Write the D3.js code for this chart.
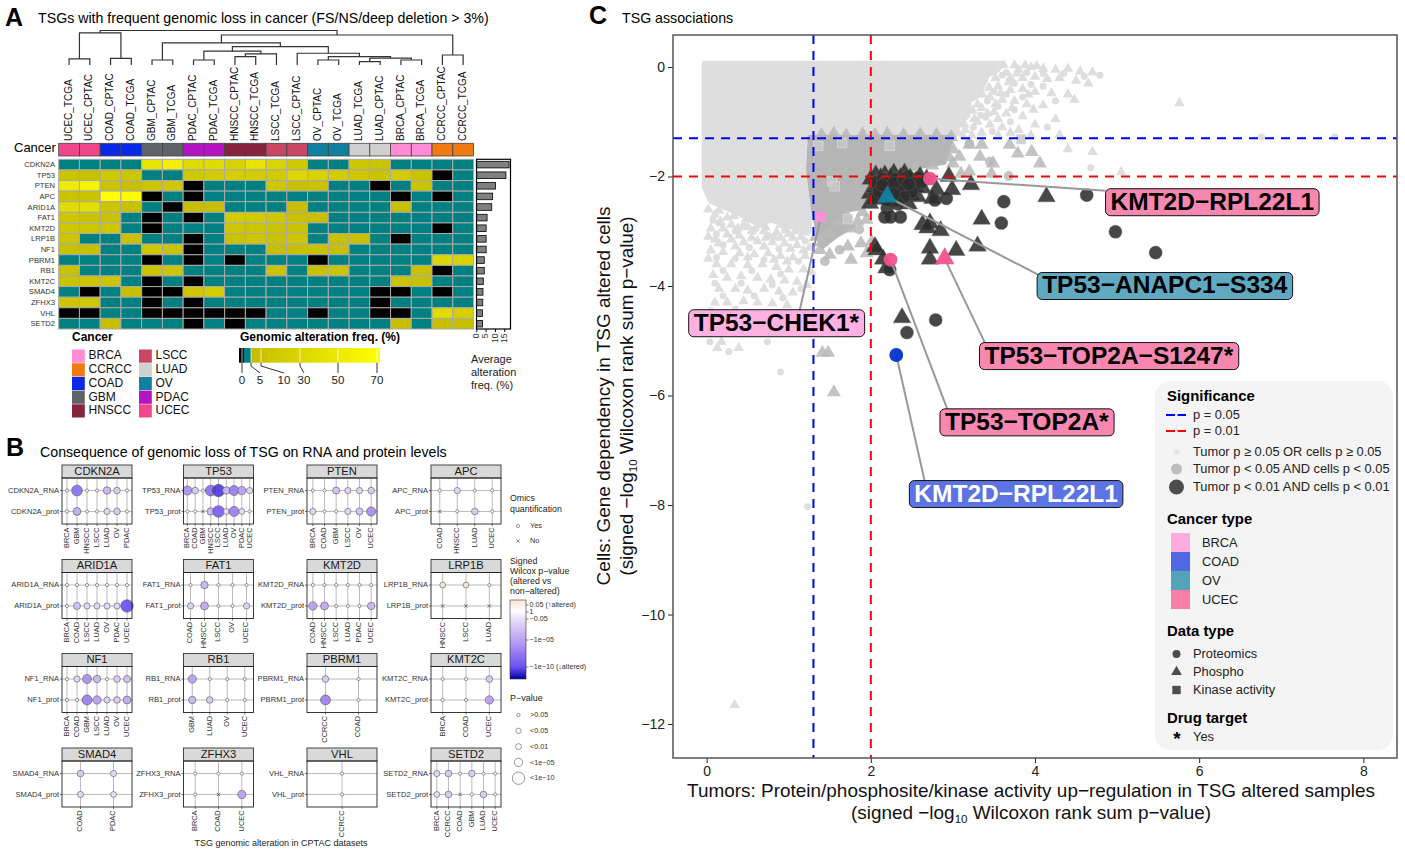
<!DOCTYPE html>
<html><head><meta charset="utf-8">
<script src="https://cdn.jsdelivr.net/npm/d3@7"></script>
<style>html,body{margin:0;background:#fff}svg{display:block}text{font-family:"Liberation Sans",Arial,sans-serif}</style>
</head><body><div id="c"></div>
<script>
// ---------- Panel A data ----------
const columns=["UCEC_TCGA","UCEC_CPTAC","COAD_CPTAC","COAD_TCGA","GBM_CPTAC","GBM_TCGA","PDAC_CPTAC","PDAC_TCGA","HNSCC_CPTAC","HNSCC_TCGA","LSCC_TCGA","LSCC_CPTAC","OV_CPTAC","OV_TCGA","LUAD_TCGA","LUAD_CPTAC","BRCA_CPTAC","BRCA_TCGA","CCRCC_CPTAC","CCRCC_TCGA"];
const tsgRows=["CDKN2A","TP53","PTEN","APC","ARID1A","FAT1","KMT2D","LRP1B","NF1","PBRM1","RB1","KMT2C","SMAD4","ZFHX3","VHL","SETD2"];
// 0 = not altered/absent (black), 1 = below 3% (teal), otherwise percentage
const freqCDKN2A=[1,1,1,1,45,55,32,36,26,42,28,16,1,1,12,10,1,1,1,1];
const freqTP53=[10,8,16,14,1,1,16,18,22,20,18,30,25,18,14,10,18,10,0,1];
const freqPTEN=[50,58,10,8,12,14,0,1,1,1,14,8,10,1,1,0,1,10,1,1];
const freqAPC=[10,10,70,68,0,1,0,1,1,1,1,1,1,1,1,1,0,1,0,1];
const freqARID1A=[35,38,12,8,1,0,6,6,1,1,1,6,1,1,1,1,8,1,1,1];
const freqFAT1=[14,10,8,1,0,1,0,1,20,18,14,8,6,1,1,1,1,1,1,1];
const freqKMT2D=[14,14,14,1,0,1,1,1,14,12,10,10,1,1,1,1,1,1,0,1];
const freqLRP1B=[12,1,1,8,1,1,0,1,10,12,10,12,1,8,8,1,0,1,1,1];
const freqNF1=[8,6,1,1,14,10,0,1,1,1,6,6,8,6,1,1,1,1,1,1];
const freqPBRM1=[1,1,1,1,0,1,0,1,0,1,1,1,0,1,1,1,1,1,30,25];
const freqRB1=[8,1,1,1,12,12,1,1,1,1,10,1,8,10,1,1,1,8,0,1];
const freqKMT2C=[10,12,12,1,0,1,0,1,1,1,1,1,1,1,1,1,10,8,1,1];
const freqSMAD4=[1,0,1,6,0,0,15,20,1,1,1,1,1,1,1,0,0,1,0,1];
const freqZFHX3=[12,15,1,1,0,1,0,1,1,1,1,1,1,1,1,0,1,1,1,1];
const freqVHL=[0,0,1,1,0,0,0,0,0,0,1,1,0,1,1,0,0,1,35,22];
const freqSETD2=[1,1,6,1,1,1,0,1,0,1,1,1,1,1,1,1,6,1,6,6];
const heatRows=[freqCDKN2A,freqTP53,freqPTEN,freqAPC,freqARID1A,freqFAT1,freqKMT2D,freqLRP1B,freqNF1,freqPBRM1,freqRB1,freqKMT2C,freqSMAD4,freqZFHX3,freqVHL,freqSETD2];
const avgFreq=[17.3,15.6,10,8.5,8,5.5,5,5,5,4,4,3.5,3.3,3.2,3,3];
const barTicks=[0,5,10,15];
const legendCancers=["BRCA","CCRCC","COAD","GBM","HNSCC","LSCC","LUAD","OV","PDAC","UCEC"];
const cancerColors=["#ff8cd4","#f07a12","#0a28e8","#5f6368","#85243c","#c94665","#d0d0d0","#117fa0","#b514c4","#f0478c"];
// dendrogram: [height, left, right], leaves are column indices
const dendrogram=[1,
 [.93,[.175,0,1],[.19,2,3]],
 [.87,[.64,[.145,4,5],[.53,[.40,[.145,6,7],[.32,[.24,8,9],10]],[.34,11,[.24,[.145,12,13],[.20,[.10,14,15],[.145,16,17]]]]]],[.29,18,19]]];

// ---------- Panel B data (signed -log10 p; negative = lower when altered; 0 = n.s.; null = not quantified) ----------
const bGenes=["CDKN2A","TP53","PTEN","APC","ARID1A","FAT1","KMT2D","LRP1B","NF1","RB1","PBRM1","KMT2C","SMAD4","ZFHX3","VHL","SETD2"];
const bCats=[["BRCA","GBM","HNSCC","LSCC","LUAD","OV","PDAC"],["BRCA","COAD","GBM","HNSCC","LSCC","LUAD","OV","PDAC","UCEC"],["BRCA","COAD","GBM","LSCC","OV","UCEC"],["COAD","HNSCC","LUAD","UCEC"],["BRCA","COAD","LSCC","LUAD","OV","PDAC","UCEC"],["COAD","HNSCC","LSCC","OV","UCEC"],["COAD","HNSCC","LSCC","LUAD","PDAC","UCEC"],["HNSCC","LSCC","LUAD"],["BRCA","COAD","GBM","LSCC","LUAD","OV","UCEC"],["GBM","LUAD","OV","UCEC"],["CCRCC","COAD"],["BRCA","COAD","UCEC"],["COAD","PDAC"],["BRCA","COAD","UCEC"],["CCRCC"],["BRCA","CCRCC","COAD","GBM","LUAD","UCEC"]];
const bRna=[[0,-8,0,0,-4,-3,0],[-6,-3,0,-8,-11,-4,-7,-5,-2.5],[0,0,-3.5,-2.5,-2.5,-3],[0,-2.5,0,0],[0,0,0,0,0,0,0],[0,-4,0,0,0],[0,0,0,0,0,0],[2,2,0],[0,-2.5,-6,-4,0,-3,-3.5],[-5,0,0,0],[-3,0],[0,0,-3],[-3,-2.5],[0,0,0],[0],[-2.5,-3,0,-3,0,0]];
const bProt=[[0,-4.5,0,0,-2.5,-3,0],[0,0,null,-4,-9,-2,-7,-2,0],[-2.5,0,0,-2.5,-3.5,-6],[null,0,-3,0],[0,-3.5,-2.5,-2.5,-2.5,-2.5,-10],[-2.5,-4.5,0,0,-2.5],[-5,-4.5,0,0,0,-4],[null,null,null],[0,0,-7,-5,-2.5,-3,-4.5],[-4,-3,0,0],[-7,0],[0,0,-5],[-2.5,-2],[0,null,-5],[0],[-2,-3,null,0,-3,0]];
const pLegendLabels=[">0.05","<0.05","<0.01","<1e\u221205","<1e\u221210"];
const pLegendValues=[0,1.5,2.2,5,10];

// ---------- Panel C data ----------
const xTicks=[0,2,4,6,8], yTicks=[0,-2,-4,-6,-8,-10,-12];
const cloudOutline=[[-.03,.07],[3.6,.07],[3.55,-.05],[3.42,-.15],[3.38,-.3],[3.28,-.55],[3.2,-.6],[3.18,-.9],[3.08,-1.0],[3.02,-1.27],[1.3,-1.27],[1.25,-3.0],[1.1,-2.95],[.8,-2.8],[.6,-2.85],[.4,-2.68],[.2,-2.55],[.05,-2.45],[-.03,-2.2]];
const midOutline=[[1.25,-1.27],[3.0,-1.27],[2.9,-1.76],[2.47,-1.87],[2.07,-1.88],[1.95,-2.18],[1.92,-2.58],[1.66,-2.64],[1.8,-2.91],[1.58,-3.1],[1.4,-3.31],[1.34,-2.97],[1.29,-2.61],[1.23,-1.88]];
const lightTri=[[3.62,.03],[3.75,.03],[3.88,.03],[4.02,.02],[3.8,-.05],[3.95,0],[4.1,-.03],[4.25,-.05],[4.4,-.03],[4.55,-.08],[4.7,-.1],[3.7,-.2],[3.85,-.2],[4,-.18],[4.15,-.22],[4.3,-.2],[4.5,-.25],[4.65,-.3],[3.55,-.35],[3.7,-.42],[3.85,-.4],[4,-.45],[4.2,-.48],[4.4,-.5],[3.45,-.55],[3.6,-.6],[3.75,-.62],[3.9,-.68],[4.1,-.7],[3.35,-.75],[3.5,-.82],[3.65,-.85],[3.85,-.9],[4.25,-.95],[3.3,-1],[3.45,-1.05],[3.6,-1.1],[3.15,-1.15],[3.35,-1.2],[3.55,-1.25],[4.48,-.6],[4.3,-1.24],[3.8,-1.15],[4,-1.05],[3.95,-1.25],[5.76,-.66],[5.05,-1.92],[4.4,-1.5],[4.7,-1.55],
[3.45,-.1],[3.52,-.2],[3.44,-.38],[3.36,-.5],[3.3,-.68],[3.24,-.8],[3.26,-.95],[3.14,-1.05],[3.06,-1.2],[3.58,-.48],[3.68,-.28],[3.78,-.12],[3.52,-.68],[3.42,-.85],[3.55,-.95],[3.23,-1.25],[3.72,-.75],[3.92,-.5],[3.98,-.78],[3.7,-1.2],
[.1,-2.7],[.25,-2.75],[.05,-2.95],[.2,-2.95],[.38,-2.95],[.55,-3],[.7,-3],[.85,-3.02],[1,-3.05],[1.15,-3.1],[.1,-3.15],[.3,-3.15],[.45,-3.2],[.62,-3.18],[.8,-3.2],[.95,-3.22],[1.1,-3.25],[1.25,-3.3],[.05,-3.35],[.2,-3.38],[.4,-3.4],[.58,-3.42],[.75,-3.4],[.9,-3.45],[1.05,-3.48],[1.2,-3.45],[.12,-3.6],[.3,-3.6],[.5,-3.62],[.68,-3.6],[.85,-3.65],[1,-3.7],[1.18,-3.7],[.08,-3.8],[.25,-3.85],[.42,-3.82],[.62,-3.85],[.78,-3.88],[.95,-3.9],[1.1,-3.92],[1.28,-3.75],[.15,-4.05],[.35,-4.05],[.5,-4.08],[.7,-4.05],[.88,-4.1],[1.05,-4.12],[1.22,-3.98],[.1,-4.3],[.25,-4.3],[.45,-4.28],[.62,-4.3],[.8,-4.32],[.98,-4.35],[.18,-5.02],[.13,-5.13],[.39,-5.13],[.34,-11.65],
[.02,-2.6],[.15,-2.62],[.33,-2.72],[.48,-2.78],[.66,-2.88],[.9,-2.88],[1.08,-3.0],[1.2,-3.02],[.17,-2.83],[.3,-2.88],[.5,-2.92],[.72,-2.93],[1.05,-3.12],[.25,-3.06],[.4,-3.08],[.55,-3.12],[.72,-3.12],[.9,-3.12],[.15,-3.22],[.35,-3.28],[.7,-3.28],[1.02,-3.32],[1.18,-3.35],[.02,-3.1],[.02,-3.5],[.5,-3.48],[.82,-3.52],[.98,-3.55]];
const lightCirc=[[3.65,-.1],[3.9,-.1],[4.1,-.12],[4.35,-.12],[4.6,-.17],[4.79,-.15],[3.75,-.3],[3.95,-.32],[4.1,-.35],[3.5,-.45],[3.65,-.5],[3.85,-.55],[4.25,-.62],[3.55,-.72],[3.75,-.78],[3.4,-.92],[3.7,-1],[4.15,-1.1],[3.25,-1.1],[4.68,-1.84],[6.76,-1.28],[7.65,-1.28],[3.5,-.02],[3.6,-.15],[3.42,-.62],[3.34,-.88],[3.12,-1.27],[3.48,-1.18],
[.15,-2.85],[.45,-2.9],[.75,-3.08],[.2,-3.25],[.52,-3.3],[.88,-3.32],[.12,-3.48],[.35,-3.5],[.7,-3.52],[1.12,-3.55],[.2,-3.72],[.55,-3.72],[.9,-3.78],[.1,-3.95],[.42,-3.95],[.8,-3.98],[1.15,-4.05],[.2,-4.18],[.58,-4.18],[.93,-4.22],[.05,-4.45],[.35,-4.42],[.04,-5.02],[.27,-5.2],[.74,-5.02],[.9,-5.57],[1.23,-8.03],[.08,-2.8],[.6,-2.95],[.95,-2.98],[.35,-3.0],[.12,-3.05],[.82,-3.1],[1.2,-3.18]];
const midTri=[[3.08,-1.64],[3.2,-1.42],[3.35,-1.42],[3.33,-1.64],[3.69,-1.42],[3.79,-1.58],[3.96,-1.55],[3.49,-1.76],[3.2,-1.91],[3.1,-1.95],[3.47,-1.95],[3,-1.76],[4.06,-1.76],[1.88,-3.22],[2.01,-3.19],[1.72,-3.28],[1.76,-3.52],[1.95,-3.4],[1.5,-3.43],[1.38,-3.34],[1.84,-2.82],[1.95,-2.79],[1.41,-5.22],[1.48,-5.22],[1.55,-5.94],
[1.4,-1.24],[1.55,-1.22],[1.7,-1.25],[1.9,-1.23],[2.05,-1.24],[2.2,-1.22],[2.4,-1.24],[2.6,-1.23],[2.8,-1.24],[2.98,-1.28],[3,-1.5],[2.95,-1.65],[2.75,-1.8],[2.55,-1.83],[1.7,-2.7],[1.6,-2.85],[1.75,-2.95],[1.5,-3.05],[1.4,-3.2],[1.33,-3.1],[1.9,-2.65]];
const midCirc=[[3.45,-1.73],[3.68,-1.99],[3.2,-1.4],[1.62,-3.34],[1.44,-3.55],[1.86,-2.97]];
const midSquare=[[1.36,-1.44],[1.65,-1.39],[2.23,-1.44],[3.83,-1.32],[1.53,-2.09],[1.56,-2.18],[1.72,-2.78]];
const darkTri=[[2.06,-1.97],[2.17,-1.97],[2.28,-1.94],[2.41,-1.94],[2.95,-2],[3.22,-2.15],[2.63,-2.21],[2.8,-2.24],[2.99,-2.24],[2.57,-2.37],[2.75,-2.4],[2.46,-2.5],[1.99,-2.49],[1.99,-2.31],[3.35,-2.78],[2.63,-2.88],[2.72,-2.85],[2.69,-2.94],[2.85,-2.99],[2.72,-3.31],[3.04,-3.35],[3.3,-3.27],[2.72,-3.51],[2.05,-3.28],[2.07,-3.34],[2.15,-3.51],[2.19,-3.67],[4.14,-2.37],[2.38,-4.58],
[2.1,-2.1],[2.2,-2.15],[2.3,-2.08],[2.4,-2.12],[2.5,-2.1],[2.6,-2],[2.15,-2.25],[2.3,-2.25],[2.45,-2.22],[2.55,-2.2],[2.05,-2.2],[2.2,-2.35],[2.38,-2.35],[2.5,-2.35],[2.1,-2.38],[2.68,-2.05],[2,-2.05],
[2.12,-2.02],[2.24,-2.02],[2.36,-2.02],[2.48,-2.03],[2.08,-2.14],[2.26,-2.14],[2.42,-2.16],[2.18,-2.22],[2.34,-2.3],[2.44,-2.3],[2.52,-2.15],[2.06,-2.3],[2.24,-2.42],[2.3,-2.45],[2.04,-2.42]];
const darkCirc=[[2.05,-2.1],[2.15,-2.05],[2.3,-2.05],[2.45,-2],[2.58,-2.02],[2.22,-2.18],[2.35,-2.2],[2.5,-2.28],[2.62,-2.1],[2.1,-2.28],[2.4,-2.38],[2.33,-2.5],[2.78,-2.43],[2.92,-2.4],[2.2,-2.58],[2.17,-2.74],[2.24,-2.74],[2.36,-2.74],[2.23,-3.7],[2.2,-2.43],[3.62,-2.46],[3.59,-2.85],[4.63,-2.34],[4.98,-3.01],[5.47,-3.39],[2.79,-4.62],[2.44,-4.85],[2.18,-2.1],[2.28,-2.12],[2.4,-2.05],[2.14,-2.16],[2.28,-2.32],[2.46,-2.14]];
const hitNames=["KMT2D\u2212RPL22L1","TP53\u2212ANAPC1\u2212S334","TP53\u2212CHEK1*","TP53\u2212TOP2A\u2212S1247*","TP53\u2212TOP2A*","KMT2D\u2212RPL22L1"];
const hitCancer=["UCEC","OV","BRCA","UCEC","UCEC","COAD"];
const hitShape=["circle","triangle","square","triangle","circle","circle"];
const hitPoints=[[2.72,-2.04],[2.2,-2.37],[1.39,-2.74],[2.9,-3.5],[2.24,-3.52],[2.31,-5.26]];
const hitLabelCentres=[[6.16,-2.47],[5.58,-4.0],[.85,-4.68],[4.9,-5.28],[3.9,-6.49],[3.77,-7.8]];
const hitLineEnds=[[4.86,-2.26],[4.06,-3.81],[1.13,-4.47],[3.4,-5.07],[2.94,-6.28],[2.66,-7.59]];
const markColor={UCEC:"#f0538f",OV:"#147fa3",BRCA:"#ff8fd6",COAD:"#0433cc"};
const labelColor={UCEC:"#f77fa9",OV:"#55a2bb",BRCA:"#ffabe0",COAD:"#5068e2"};
const legendCType=["BRCA","COAD","OV","UCEC"];

// ---------- drawing ----------
const W=1405,H=859;
const svg=d3.select("#c").append("svg").attr("width",W).attr("height",H).attr("viewBox",[0,0,W,H]);
function txt(g,x,y,s,size,o={}){const t=g.append("text").attr("x",x).attr("y",y+1).attr("font-size",size).attr("fill",o.fill||"#000").text(s);
 if(o.anchor)t.attr("text-anchor",o.anchor); if(o.bold)t.attr("font-weight","bold"); t.attr("dominant-baseline",o.base||"middle"); return t;}
function vtxt(g,x,y,s,size,o={}){const t=txt(g,0,-1,s,size,o);return t.attr("transform",`translate(${x},${y}) rotate(-90)`);}

// panel letters and titles
txt(svg,5,18,"A",25,{bold:true}); txt(svg,38,18,"TSGs with frequent genomic loss in cancer (FS/NS/deep deletion > 3%)",14.2);
txt(svg,6,448,"B",25,{bold:true}); txt(svg,40,452,"Consequence of genomic loss of TSG on RNA and protein levels",14.2);
txt(svg,589,16,"C",25,{bold:true}); txt(svg,622,18,"TSG associations",14.2);

// ---- Panel A ----
const A=svg.append("g");
const hx=d3.scaleBand().domain(columns).range([58.7,473.5]);
const hy=d3.scaleBand().domain(tsgRows).range([159.3,329]);
const cancerOf=c=>c.split("_")[0];
const cancerScale=d3.scaleOrdinal(legendCancers,cancerColors);
const dy=d3.scaleLinear([0,1],[65,30.5]);
const leafX=i=>hx(columns[i])+hx.bandwidth()/2;
const dend=A.append("g").attr("fill","none").attr("stroke","#333").attr("stroke-width",1.2);
function drawNode(n){ if(typeof n==="number")return {x:leafX(n),h:0};
 const a=drawNode(n[1]),b=drawNode(n[2]);
 const p=d3.path(); p.moveTo(a.x,dy(a.h));p.lineTo(a.x,dy(n[0]));p.lineTo(b.x,dy(n[0]));p.lineTo(b.x,dy(b.h));
 dend.append("path").attr("d",p.toString()); return {x:(a.x+b.x)/2,h:n[0]};}
drawNode(dendrogram);
columns.forEach(c=>vtxt(A,hx(c)+hx.bandwidth()/2,141,c,10,{anchor:"start",fill:"#111"}));
txt(A,14,148,"Cancer",13);
A.selectAll(".ann").data(columns).join("rect").attr("x",c=>hx(c)).attr("y",143.3).attr("width",hx.bandwidth()).attr("height",12.7)
 .attr("fill",c=>cancerScale(cancerOf(c))).attr("stroke","#444").attr("stroke-width",.8);
const heatGrad=d3.scaleLinear([3,70],["#c4bc00","#ffff00"]);
const heatColor=v=>v===0?"#000":v<3?"#008080":heatGrad(v);
tsgRows.forEach((r,i)=>{
 A.append("g").selectAll("rect").data(heatRows[i]).join("rect").attr("x",(d,j)=>hx(columns[j])).attr("y",hy(r)).attr("width",hx.bandwidth()).attr("height",hy.bandwidth())
  .attr("fill",heatColor).attr("stroke","#aaa").attr("stroke-width",1);
 txt(A,55,hy(r)+hy.bandwidth()/2-.5,r,7.6,{anchor:"end",fill:"#333"});
});
const bx=d3.scaleLinear([0,18],[476.8,510.4]);
A.append("rect").attr("x",476.5).attr("y",159.3).attr("width",34).attr("height",169.7).attr("fill","#fff").attr("stroke","#000").attr("stroke-width",1.2);
A.selectAll(".bar").data(avgFreq).join("rect").attr("x",bx(0)).attr("y",(d,i)=>hy(tsgRows[i])+2).attr("width",d=>bx(d)-bx(0)).attr("height",hy.bandwidth()-4)
 .attr("fill","#808080").attr("stroke","#000").attr("stroke-width",.8);
barTicks.forEach(t=>{A.append("line").attr("x1",bx(t)).attr("x2",bx(t)).attr("y1",329).attr("y2",332).attr("stroke","#000");
 vtxt(A,bx(t),333.5,t,8.6,{anchor:"end",fill:"#333"});});
["Average","alteration","freq. (%)"].forEach((s,i)=>txt(A,471,359+i*13,s,11,{fill:"#222"}));
txt(A,72,337,"Cancer",12,{bold:true});
legendCancers.forEach((c,i)=>{const col=i<5?0:1,row=i%5;const x=col?139:72,y=349.5+row*13.7;
 A.append("rect").attr("x",x).attr("y",y).attr("width",12.8).attr("height",13.2).attr("fill",cancerColors[i]);
 txt(A,x+16.5,y+5.8,c,12,{fill:"#111"});});
txt(A,240,337,"Genomic alteration freq. (%)",12,{bold:true});
const defs=svg.append("defs");
const g1=defs.append("linearGradient").attr("id","gAlt");g1.append("stop").attr("offset",0).attr("stop-color","#c4bc00");g1.append("stop").attr("offset",1).attr("stop-color","#ffff00");
A.append("rect").attr("x",239).attr("y",348).attr("width",5).attr("height",14.7).attr("fill","#000");
A.append("rect").attr("x",243.7).attr("y",348).attr("width",7.5).attr("height",14.7).attr("fill","#008080");
A.append("rect").attr("x",251).attr("y",348).attr("width",129).attr("height",14.7).attr("fill","url(#gAlt)");
[[242,242,242,"0"],[251,260,260,"5"],[261,284,284,"10"],[300,304,304,"30"],[338,338,338,"50"],[377,377,377,"70"]].forEach(d=>{
 A.append("line").attr("x1",d[0]).attr("x2",d[0]).attr("y1",348).attr("y2",362.7).attr("stroke","#fff").attr("stroke-width",.7);
 A.append("path").attr("d",`M${d[0]},362.7 L${d[0]},${d[0]===d[1]?373:366} L${d[1]},373`).attr("fill","none").attr("stroke","#000").attr("stroke-width",.8);
 txt(A,d[2],380,d[3],11.5,{anchor:"middle",fill:"#222"});});

// ---- Panel B ----
const B=svg.append("g");
const panelX=[62,183.5,307,431], panelY=[465,559.5,653.5,748];
const pW=70,stripH=13,pH=46;
const bColor=d3.scaleLinear([2,0,-2,-5,-10,-14],["#fde3d4","#ffffff","#e8e0f8","#b89ff0","#6a50f0","#0000a0"]).clamp(true);
const bRad=d3.scaleLinear([1.3,10],[2.6,6.2]).clamp(true);
const radOf=v=>Math.abs(v)<1.3?1.6:bRad(Math.abs(v));
const timesPath=d3.symbol(d3.symbolTimes,9)();
const layoutIdx=[[0,1,2,3],[4,5,6,7],[8,9,10,11],[12,13,14,15]];
layoutIdx.forEach((rowIdx,ri)=>rowIdx.forEach((gi,ci)=>{
 const gene=bGenes[gi],x0=panelX[ci],y0=panelY[ri];
 const g=B.append("g").attr("transform",`translate(${x0},${y0})`);
 g.append("rect").attr("width",pW).attr("height",stripH).attr("fill","#d9d9d9").attr("stroke","#333").attr("stroke-width",.9);
 txt(g,pW/2,stripH/2-.5,gene,11.2,{anchor:"middle",fill:"#1a1a1a"});
 const px=d3.scalePoint().domain(bCats[gi]).range([0,pW]).padding(bCats[gi].length<=2?.56:.5);
 const py=d3.scalePoint().domain(["RNA","prot"]).range([stripH,stripH+pH]).padding(.6);
 const names=["RNA","prot"],vals=[bRna[gi],bProt[gi]];
 names.forEach(n=>g.append("line").attr("x1",0).attr("x2",pW).attr("y1",py(n)).attr("y2",py(n)).attr("stroke","#aaa").attr("stroke-width",.8));
 bCats[gi].forEach(c=>{g.append("line").attr("x1",px(c)).attr("x2",px(c)).attr("y1",stripH).attr("y2",stripH+pH).attr("stroke","#aaa").attr("stroke-width",.8);
  g.append("line").attr("x1",px(c)).attr("x2",px(c)).attr("y1",stripH+pH).attr("y2",stripH+pH+2).attr("stroke","#333").attr("stroke-width",.7);
  vtxt(g,px(c),stripH+pH+3.5,c,7.4,{anchor:"end",fill:"#333"});});
 names.forEach((n,k)=>{
  g.append("line").attr("x1",-2).attr("x2",0).attr("y1",py(n)).attr("y2",py(n)).attr("stroke","#333").attr("stroke-width",.7);
  txt(g,-3,py(n)-.7,gene+"_"+n,7.6,{anchor:"end",fill:"#333"});
  vals[k].forEach((v,j)=>{const cx=px(bCats[gi][j]),cy=py(n);
   if(v===null)g.append("path").attr("d",timesPath).attr("transform",`translate(${cx},${cy})`).attr("stroke","#555").attr("stroke-width",.8).attr("fill","none");
   else g.append("circle").attr("cx",cx).attr("cy",cy).attr("r",radOf(v)).attr("fill",bColor(v)).attr("fill-opacity",.92).attr("stroke","#555").attr("stroke-width",.6);});
 });
 g.append("rect").attr("y",stripH).attr("width",pW).attr("height",pH).attr("fill","none").attr("stroke","#222").attr("stroke-width",.9);
}));
txt(B,281,843,"TSG genomic alteration in CPTAC datasets",9,{anchor:"middle",fill:"#222"});
txt(B,510,498,"Omics",8.8,{fill:"#222"});txt(B,510,509,"quantification",8.8,{fill:"#222"});
B.append("circle").attr("cx",518).attr("cy",526).attr("r",1.6).attr("fill","#fff").attr("stroke","#555").attr("stroke-width",.6);txt(B,530,525,"Yes",7.4,{fill:"#333"});
B.append("path").attr("d",timesPath).attr("transform","translate(518,541)").attr("stroke","#555").attr("stroke-width",.7).attr("fill","none");txt(B,530,540,"No",7.4,{fill:"#333"});
["Signed","Wilcox p\u2212value","(altered vs","non\u2212altered)"].forEach((s,i)=>txt(B,510,561+i*10,s,8.8,{fill:"#222"}));
const g2=defs.append("linearGradient").attr("id","gP").attr("x1",0).attr("x2",0).attr("y1",0).attr("y2",1);
[[0,2],[.14,0],[.24,-2],[.52,-5],[.85,-10],[1,-14]].forEach(d=>g2.append("stop").attr("offset",d[0]).attr("stop-color",bColor(d[1])));
B.append("rect").attr("x",510).attr("y",600).attr("width",16).attr("height",79).attr("fill","url(#gP)").attr("stroke","#333").attr("stroke-width",.6);
[["0.05 (\u2191altered)",605],["1",612],["\u22120.05",619],["\u22121e\u221205",640],["\u22121e\u221210 (\u2193altered)",667]].forEach(d=>{
 B.append("line").attr("x1",526).attr("x2",528.5).attr("y1",d[1]).attr("y2",d[1]).attr("stroke","#333").attr("stroke-width",.6);
 txt(B,529.5,d[1]-.7,d[0],7.2,{fill:"#333"});});
txt(B,510,698,"P\u2212value",9,{fill:"#222"});
pLegendLabels.forEach((s,i)=>{const y=715+i*15.8;
 B.append("circle").attr("cx",518.5).attr("cy",y).attr("r",radOf(pLegendValues[i])).attr("fill","#fff").attr("stroke","#555").attr("stroke-width",.6);
 txt(B,530,y-.7,s,7.2,{fill:"#333"});});

// ---- Panel C ----
const C=svg.append("g");
const x=d3.scaleLinear([-.41,8.41],[673,1397]);
const y=d3.scaleLinear([.584,-12.62],[35,758]);
const sym=(type,size)=>d3.symbol(type,size)();
function pts(arr,type,size,style){C.append("g").selectAll("path").data(arr).join("path").attr("d",sym(type,size)).attr("transform",d=>`translate(${x(d[0])},${y(d[1])})`)
 .attr("fill",style.fill).attr("fill-opacity",style.op||1).attr("stroke",style.stroke||"none").attr("stroke-width",style.sw||0);}
const area=d3.line().x(d=>x(d[0])).y(d=>y(d[1]));
C.append("path").attr("d",area(cloudOutline)+"Z").attr("fill","#dedede").attr("stroke","#dedede").attr("stroke-width",5).attr("stroke-linejoin","round");
pts(lightTri,d3.symbolTriangle,48,{fill:"#dcdcdc",op:.95});
pts(lightCirc,d3.symbolCircle,38,{fill:"#dcdcdc",op:.95});
C.append("path").attr("d",area(midOutline)+"Z").attr("fill","#b5b5b5").attr("stroke","#b5b5b5").attr("stroke-width",3).attr("stroke-linejoin","round");
pts(midTri,d3.symbolTriangle,85,{fill:"#b9b9b9",op:.85});
pts(midCirc,d3.symbolCircle,75,{fill:"#b9b9b9",op:.85});
pts(midSquare,d3.symbolSquare,90,{fill:"#c8c8c8",op:.85,stroke:"#dcdcdc",sw:.7});
pts(darkTri,d3.symbolTriangle,135,{fill:"#2e2e2e",op:.88,stroke:"#666",sw:.4});
pts(darkCirc,d3.symbolCircle,135,{fill:"#2e2e2e",op:.88,stroke:"#666",sw:.4});
// significance lines
[[1.301,"#0000ff"],[2,"#ff0000"]].forEach(d=>C.append("line").attr("x1",x(d[0])).attr("x2",x(d[0])).attr("y1",35).attr("y2",758).attr("stroke",d[1]).attr("stroke-width",2).attr("stroke-dasharray","9,7"));
[[-1.301,"#0000ff"],[-2,"#ff0000"]].forEach(d=>C.append("line").attr("x1",673).attr("x2",1397).attr("y1",y(d[0])).attr("y2",y(d[0])).attr("stroke",d[1]).attr("stroke-width",2).attr("stroke-dasharray","9,7"));
// connectors, hit marks
hitPoints.forEach((p,i)=>C.append("line").attr("x1",x(p[0])).attr("y1",y(p[1])).attr("x2",x(hitLineEnds[i][0])).attr("y2",y(hitLineEnds[i][1])).attr("stroke","#999").attr("stroke-width",2));
const shapeType={circle:d3.symbolCircle,triangle:d3.symbolTriangle,square:d3.symbolSquare};
const shapeSize={circle:150,triangle:170,square:105};
hitPoints.forEach((p,i)=>C.append("path").attr("d",sym(shapeType[hitShape[i]],shapeSize[hitShape[i]])).attr("transform",`translate(${x(p[0])},${y(p[1])})`).attr("fill",markColor[hitCancer[i]]).attr("fill-opacity",.95));
// labels
hitNames.forEach((s,i)=>{const c=hitLabelCentres[i],cx=x(c[0]),cy=y(c[1]);
 const g=C.append("g");
 const r=g.append("rect").attr("fill",labelColor[hitCancer[i]]).attr("fill-opacity",.93).attr("stroke","#111").attr("stroke-width",1).attr("rx",5).attr("ry",5);
 const t=txt(g,cx,cy,s,24.5,{anchor:"middle",bold:true,fill:hitCancer[i]==="COAD"?"#fff":"#000"});
 const b=t.node().getBBox();
 r.attr("x",b.x-5).attr("y",cy-13.5).attr("width",b.width+10).attr("height",27);
});
// axes and frame
const ax=C.append("g").attr("transform","translate(0,758)").call(d3.axisBottom(x).tickValues(xTicks).tickSize(5).tickFormat(d=>d));
const ay=C.append("g").attr("transform","translate(673,0)").call(d3.axisLeft(y).tickValues(yTicks).tickSize(5).tickFormat(d=>String(d).replace("-","\u2212")));
[ax,ay].forEach(a=>{a.select(".domain").remove();a.selectAll("text").attr("font-size",14).attr("fill","#222").attr("font-family","Liberation Sans");a.selectAll("line").attr("stroke","#222");});
C.append("rect").attr("x",673).attr("y",35).attr("width",724).attr("height",723).attr("fill","none").attr("stroke","#555").attr("stroke-width",1.5);
txt(C,1031,791,"Tumors: Protein/phosphosite/kinase activity up\u2212regulation in TSG altered samples",18.95,{anchor:"middle",fill:"#111"});
function signedTitle(t){t.append("tspan").text("(signed \u2212log");t.append("tspan").attr("dy",4).attr("font-size",11.5).text("10");t.append("tspan").attr("dy",-4).text(" Wilcoxon rank sum p\u2212value)");}
signedTitle(C.append("text").attr("x",1031).attr("y",819).attr("text-anchor","middle").attr("font-size",18.95).attr("fill","#111"));
vtxt(C,605,396,"Cells: Gene dependency in TSG altered cells",19,{anchor:"middle",fill:"#111"});
signedTitle(C.append("text").attr("transform","translate(633,396) rotate(-90)").attr("text-anchor","middle").attr("font-size",18.9).attr("fill","#111"));
// legend
const L=C.append("g");
L.append("rect").attr("x",1155).attr("y",381).attr("width",238).attr("height",369).attr("rx",15).attr("ry",15).attr("fill","#f4f4f4");
const hd=(s,yy)=>txt(L,1167,yy,s,14.9,{bold:true});
hd("Significance",396);hd("Cancer type",519);hd("Data type",631);hd("Drug target",718);
[["p = 0.05","#0000ff",415],["p = 0.01","#ff0000",431]].forEach(d=>{L.append("line").attr("x1",1166).attr("x2",1186).attr("y1",d[2]).attr("y2",d[2]).attr("stroke",d[1]).attr("stroke-width",2).attr("stroke-dasharray","9,2.5");txt(L,1193,d[2],d[0],12.85,{fill:"#222"});});
[["Tumor p \u2265 0.05 OR cells p \u2265 0.05",452,3,"#e6e6e6"],["Tumor p < 0.05 AND cells p < 0.05",469,5.5,"#bdbdbd"],["Tumor p < 0.01 AND cells p < 0.01",487,7.5,"#4d4d4d"]].forEach(d=>{L.append("circle").attr("cx",1176.5).attr("cy",d[1]).attr("r",d[2]).attr("fill",d[3]);txt(L,1193,d[1],d[0],12.85,{fill:"#222"});});
legendCType.forEach((c,i)=>{const yy=533+i*19;L.append("rect").attr("x",1171).attr("y",yy).attr("width",19).attr("height",19).attr("fill",labelColor[c]);txt(L,1202,yy+9.5,c,12.85,{fill:"#222"});});
[["Proteomics",654,d3.symbolCircle,50],["Phospho",672,d3.symbolTriangle,50],["Kinase activity",690,d3.symbolSquare,70]].forEach(d=>{L.append("path").attr("d",sym(d[2],d[3])).attr("transform",`translate(1176.5,${d[1]})`).attr("fill","#4d4d4d");txt(L,1193,d[1],d[0],12.85,{fill:"#222"});});
txt(L,1177,739,"*",19,{anchor:"middle",bold:true});txt(L,1193,737,"Yes",12.85,{fill:"#222"});
</script></body></html>
